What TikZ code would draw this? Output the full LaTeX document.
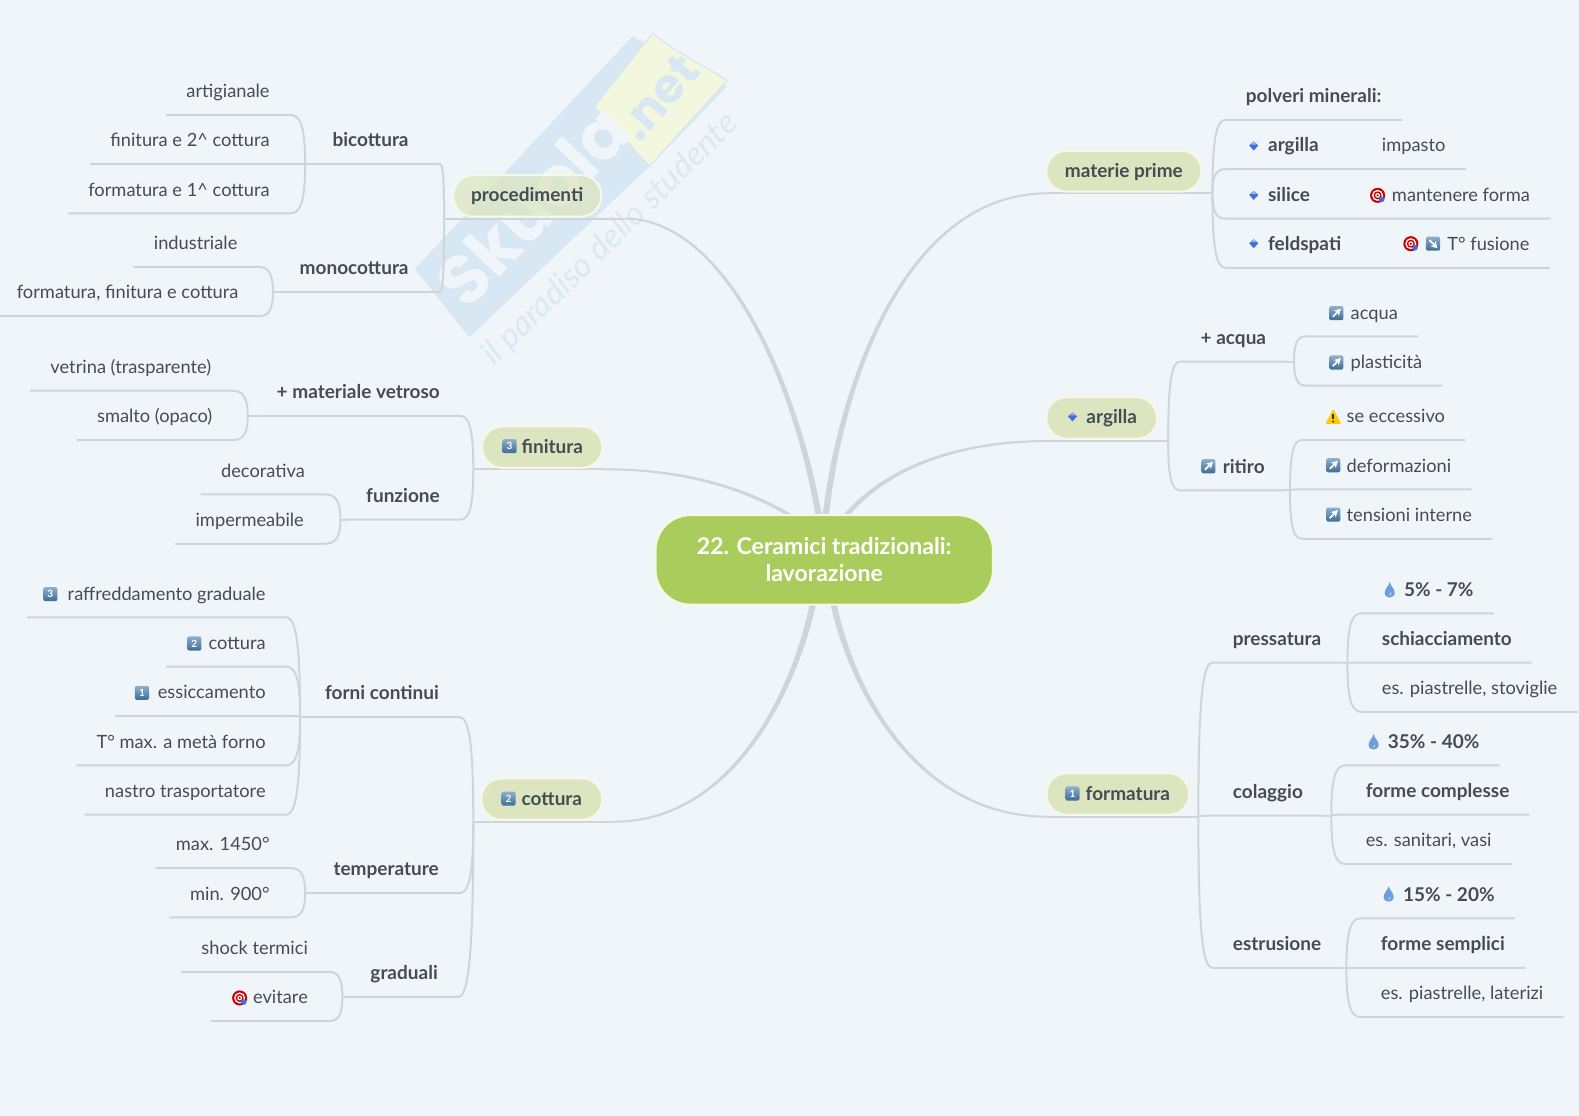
\documentclass[tikz,border=0pt]{standalone}
\usepackage{fontspec}
\setmainfont{Lato}
\newfontfamily\wmfont{Poppins}
\usetikzlibrary{calc,arrows.meta}
\definecolor{pagebg}{HTML}{F0F5F9}
\definecolor{ink}{HTML}{454D53}
\definecolor{twigc}{HTML}{CFD6DB}
\definecolor{pillc}{HTML}{DCE5C0}
\definecolor{pilledge}{HTML}{F5F9E8}
\definecolor{rootc}{HTML}{A9CC5C}
\definecolor{rootedge}{HTML}{F4FAE0}
\definecolor{boxtop}{HTML}{8DB0CF}
\definecolor{boxbot}{HTML}{3D6C95}
\definecolor{wmband}{HTML}{D7E8F4}
\definecolor{wmyel}{HTML}{F2F7DD}
\definecolor{wmsub}{HTML}{DCE9F2}
\definecolor{gemc}{HTML}{3F6FE0}
\newlength\un \setlength\un{0.7553pt}
\newcommand\fs{\fontsize{13.7}{16}\selectfont}
\newcommand\fsb{\fontsize{14.25}{16}\selectfont\bfseries}
\newcommand\ico[1]{\hspace*{#1\un}}
\newcommand\forkto[3]{\draw[twig] (#1) .. controls ($(#1|-#2)!0.25!(#1)$) and ($(#1|-#2)!0.3!(#2)$) .. (#2) -- (#3);}
\newcommand\maincurve[5]{\fill[twigc] ([xshift=-2.4pt]#1) .. controls ([xshift=-1.6pt,yshift=#5*0.9pt]#2) and ([xshift=-0.5pt,yshift=#5*0.9pt]#3) .. ([yshift=#5*0.75pt]#4) -- ([yshift=-#5*0.75pt]#4) .. controls ([xshift=0.5pt,yshift=-#5*0.9pt]#3) and ([xshift=1.6pt,yshift=-#5*0.9pt]#2) .. ([xshift=2.4pt]#1) -- cycle;}
\tikzset{
  twig/.style={draw=twigc,line width=1.5pt},
  rn/.style={anchor=south west,inner ysep=0pt,inner xsep=15.1pt,minimum height=36.3pt,text height=14.8pt,text depth=4pt,text=ink,font=\fs},
  ln/.style={rn,anchor=south east},
  rb/.style={rn,font=\fsb},
  lb/.style={ln,font=\fsb},
  pill/.style={draw=pilledge,line width=1.5pt,fill=pillc,rounded corners=15pt,inner sep=0pt,text=ink,font=\fsb,text height=12pt,text depth=3pt},
  pics/numbox/.style={code={
    \shade[top color=boxtop,bottom color=boxbot,rounded corners=1.5pt] (-7,-7) rectangle (7,7);
    \node[text=white,font=\fontsize{7.5}{8}\selectfont\bfseries,inner sep=0pt] (dg) at (0,0) {#1};}},
  pics/arrbox/.style={code={
    \shade[top color=boxtop,bottom color=boxbot,rounded corners=1.5pt] (-7,-7) rectangle (7,7);
    \draw[white,line width=1.3pt,-{Stealth[length=5pt,width=5.5pt]}] (-3.5,3.5) -- (4.5,-4.5);}},
  pics/arrdown/.style={code={
    \shade[top color=boxtop,bottom color=boxbot,rounded corners=1.5pt] (-7,-7) rectangle (7,7);
    \draw[white,line width=1.3pt,-{Stealth[length=5pt,width=5.5pt]}] (-3.5,-3.5) -- (4.5,4.5);}},
  pics/gem/.style={code={
    \fill[gemc] (0,-4.5) -- (4.5,-0.5) -- (0,4.5) -- (-4.5,-0.5) -- cycle;
    \fill[gemc!50!white] (0,-4.5) -- (2.5,-1.5) -- (-2.5,-1.5) -- cycle;}},
  pics/target/.style={code={
    \fill[red!80!black] (0,0) circle (7.5);
    \fill[white] (0,0) circle (5.5);
    \fill[red!80!black] (0,0) circle (4);
    \fill[white] (0,0) circle (2.4);
    \fill[red!80!black] (0,0) circle (1.2);
    \fill[gemc] (4,4) circle (2.8);}},
  pics/warn/.style={code={
    \fill[yellow!65!orange,rounded corners=1pt] (0,-8) -- (8,7) -- (-8,7) -- cycle;
    \fill[black!80] (-1,-3) rectangle (1,2.5);
    \fill[black!80] (0,4.6) circle (1.1);}},
  pics/drop/.style={code={
    \fill[cyan!55!blue!60] (0,-8) .. controls (1,-4) and (5,-1) .. (5,2.5) .. controls (5,9) and (-5,9) .. (-5,2.5) .. controls (-5,-1) and (-1,-4) .. (0,-8) -- cycle;
    \fill[white,opacity=.7] (1.6,2) .. controls (2.4,4) and (1,5.5) .. (-.5,5.5) .. controls (.6,4.5) and (1.2,3.5) .. (1.6,2) -- cycle;}},
}
\begin{document}
\begin{tikzpicture}[x=\un,y=-\un]
\useasboundingbox (0,0) rectangle (1568,1108);
\fill[pagebg] (0,0) rectangle (1568,1108);

% ---- watermark
\fill[wmband] (412,267) -- (628,36) -- (722,86) -- (645,165) -- (466,335) -- cycle;
\draw[wmband,fill=wmyel,line width=1pt] (590,106) -- (648,33) .. controls (675,55) and (700,65) .. (722,80) -- (645,165) -- cycle;
\node[rotate=46.5,text=pagebg,font=\wmfont\fontsize{52}{54}\selectfont\bfseries,inner sep=0pt] (wm1) at (529,204) {Skuola};
\node[rotate=48,text=wmband,font=\wmfont\fontsize{36}{38}\selectfont\bfseries,inner sep=0pt] (wm2) at (654,97) {.net};
\node[rotate=44.5,text=wmsub,font=\fontsize{25}{28}\selectfont\itshape,inner sep=0pt] (wm3) at (606,238) {il paradiso dello studente};

% ---- main branch anchors
\coordinate (rP) at (820,512); \coordinate (eP) at (1040,192); \coordinate (fP) at (1204,192);
\coordinate (rA) at (840,512); \coordinate (eA) at (1040,438); \coordinate (fA) at (1160,438);
\coordinate (rF) at (828,601); \coordinate (eF) at (1040,811); \coordinate (fF) at (1190,811);
\coordinate (rC) at (807,601); \coordinate (eC) at (610,816);  \coordinate (fC) at (470,816);
\coordinate (rN) at (785,512); \coordinate (eN) at (600,466);  \coordinate (fN) at (470,466);
\coordinate (rR) at (813,512); \coordinate (eR) at (620,217);  \coordinate (fR) at (441,217);

\maincurve{rP}{835,380}{900,192}{eP}{1}
\maincurve{rA}{880,465}{950,438}{eA}{1}
\maincurve{rF}{850,700}{920,811}{eF}{-1}
\maincurve{rC}{785,700}{720,816}{eC}{1}
\maincurve{rN}{740,485}{680,466}{eN}{-1}
\maincurve{rR}{790,380}{720,217}{eR}{-1}
\draw[twig] (eP) -- (fP);
\draw[twig] (eA) -- (fA);
\draw[twig] (eF) -- (fF);
\draw[twig] (eC) -- (fC);
\draw[twig] (eN) -- (fN);
\draw[twig] (eR) -- (fR);

% ---- root
\node[draw=rootedge,line width=1.5pt,fill=rootc,rounded corners=26pt,minimum width=253pt,minimum height=67pt,inner sep=0pt,text=white,align=center,font=\fontsize{17.3}{20.4}\selectfont\bfseries] (root) at (818.5,556) {22. Ceramici tradizionali:\\lavorazione};

% ---- pills
\node[pill,minimum width=116.3pt,minimum height=30.5pt] (tP) at (1116,170) {materie prime};
\node[pill,minimum width=83pt,minimum height=31pt] (tA) at (1094,415) {\ico{20}argilla};
\node[pill,minimum width=107pt,minimum height=31pt] (tF) at (1110,788.5) {\ico{20}formatura};
\node[pill,minimum width=90.6pt,minimum height=31pt] (tC) at (538,793.5) {\ico{20}cottura};
\node[pill,minimum width=90pt,minimum height=31pt] (tN) at (538.5,444) {\ico{20}finitura};
\node[pill,fill opacity=.75,text opacity=1,minimum width=111pt,minimum height=31pt] (tR) at (523.5,194.5) {procedimenti};
\pic at (1065,414) {gem};
\pic at (1065,788) {numbox=1};
\pic at (505,793) {numbox=2};
\pic at (506,443) {numbox=3};

% ---- materie prime
\node[rb] (n1) at (1217,119) {polveri minerali:};
\node[rb] (n2) at (1217,168) {\ico{22}argilla};
\node[rn] (n2a) at (1352,168) {impasto};
\node[rb] (n3) at (1217,217) {\ico{22}silice};
\node[rn] (n3a) at (1340,217) {\ico{22}mantenere forma};
\node[rb] (n4) at (1217,266) {\ico{22}feldspati};
\node[rn] (n4a) at (1373,266) {\ico{44}T° fusione};
\pic at (1245,145) {gem}; \pic at (1245,194) {gem}; \pic at (1245,242) {gem};
\pic at (1368,194) {target}; \pic at (1401,242) {target}; \pic at (1423,242) {arrdown};
\forkto{fP}{n1.south west}{n1.south east}
\forkto{fP}{n2.south west}{n2a.south east}
\forkto{fP}{n3.south west}{n3a.south east}
\forkto{fP}{n4.south west}{n4a.south east}

% ---- argilla
\node[rb] (a1) at (1172,359) {+ acqua};
\node[rb] (a2) at (1172,487) {\ico{22}ritiro};
\pic at (1200,463) {arrbox};
\forkto{fA}{a1.south west}{a1.south east}
\forkto{fA}{a2.south west}{a2.south east}
\coordinate (fa1) at (1285,359); \coordinate (fa2) at (1281,487);
\draw[twig] (a1.south east) -- (fa1);
\draw[twig] (a2.south east) -- (fa2);
\node[rn] (a11) at (1297,334) {\ico{24}acqua};
\node[rn] (a12) at (1297,383) {\ico{24}plasticità};
\node[rn] (a21) at (1293,437) {\ico{24}se eccessivo};
\node[rn] (a22) at (1293,486) {\ico{24}deformazioni};
\node[rn] (a23) at (1293,535) {\ico{24}tensioni interne};
\pic at (1327,311) {arrbox}; \pic at (1327,360) {arrbox};
\pic at (1324,414) {warn}; \pic at (1324,462) {arrbox}; \pic at (1324,511) {arrbox};
\forkto{fa1}{a11.south west}{a11.south east}
\forkto{fa1}{a12.south west}{a12.south east}
\forkto{fa2}{a21.south west}{a21.south east}
\forkto{fa2}{a22.south west}{a22.south east}
\forkto{fa2}{a23.south west}{a23.south east}

% ---- formatura
\node[rb] (f1) at (1204,658) {pressatura};
\node[rb] (f2) at (1204,810) {colaggio};
\node[rb] (f3) at (1204,961) {estrusione};
\forkto{fF}{f1.south west}{f1.south east}
\forkto{fF}{f2.south west}{f2.south east}
\forkto{fF}{f3.south west}{f3.south east}
\coordinate (ff1) at (1338,658); \coordinate (ff2) at (1322,810); \coordinate (ff3) at (1337,961);
\draw[twig] (f1.south east) -- (ff1);
\draw[twig] (f2.south east) -- (ff2);
\draw[twig] (f3.south east) -- (ff3);
\node[rb] (f11) at (1352,609) {\ico{22}5\% - 7\%};
\node[rb] (f12) at (1352,658) {schiacciamento};
\node[rn] (f13) at (1352,707) {es. piastrelle, stoviglie};
\node[rb] (f21) at (1336,760) {\ico{22}35\% - 40\%};
\node[rb] (f22) at (1336,809) {forme complesse};
\node[rn] (f23) at (1336,858) {es. sanitari, vasi};
\node[rb] (f31) at (1351,912) {\ico{22}15\% - 20\%};
\node[rb] (f32) at (1351,961) {forme semplici};
\node[rn] (f33) at (1351,1010) {es. piastrelle, laterizi};
\pic at (1380,586) {drop}; \pic at (1364,737) {drop}; \pic at (1379,888) {drop};
\forkto{ff1}{f11.south west}{f11.south east}
\forkto{ff1}{f12.south west}{f12.south east}
\forkto{ff1}{f13.south west}{f13.south east}
\forkto{ff2}{f21.south west}{f21.south east}
\forkto{ff2}{f22.south west}{f22.south east}
\forkto{ff2}{f23.south west}{f23.south east}
\forkto{ff3}{f31.south west}{f31.south east}
\forkto{ff3}{f32.south west}{f32.south east}
\forkto{ff3}{f33.south west}{f33.south east}

% ---- cottura
\node[lb] (c1) at (456,712) {forni continui};
\node[lb] (c2) at (456,887) {temperature};
\node[lb] (c3) at (455,990) {graduali};
\forkto{fC}{c1.south east}{c1.south west}
\forkto{fC}{c2.south east}{c2.south west}
\forkto{fC}{c3.south east}{c3.south west}
\coordinate (fc1) at (298,712); \coordinate (fc2) at (303,887); \coordinate (fc3) at (340,990);
\draw[twig] (c1.south west) -- (fc1);
\draw[twig] (c2.south west) -- (fc2);
\draw[twig] (c3.south west) -- (fc3);
\node[ln] (c11) at (284,613) {\ico{20}raffreddamento graduale};
\node[ln] (c12) at (284,662) {\ico{22}cottura};
\node[ln] (c13) at (284,711) {\ico{22}essiccamento};
\node[ln] (c14) at (284,760) {T° max. a metà forno};
\node[ln] (c15) at (284,809) {nastro trasportatore};
\pic at (50,590) {numbox=3}; \pic at (193,639) {numbox=2}; \pic at (141,688) {numbox=1};
\forkto{fc1}{c11.south east}{c11.south west}
\forkto{fc1}{c12.south east}{c12.south west}
\forkto{fc1}{c13.south east}{c13.south west}
\forkto{fc1}{c14.south east}{c14.south west}
\forkto{fc1}{c15.south east}{c15.south west}
\node[ln] (c21) at (288,862) {max. 1450°};
\node[ln] (c22) at (288,911) {min. 900°};
\forkto{fc2}{c21.south east}{c21.south west}
\forkto{fc2}{c22.south east}{c22.south west}
\node[ln] (c31) at (326,965) {shock termici};
\node[ln] (c32) at (326,1014) {\ico{22}evitare};
\pic at (238,991) {target};
\forkto{fc3}{c31.south east}{c31.south west}
\forkto{fc3}{c32.south east}{c32.south west}

% ---- finitura
\node[lb] (v1) at (457,413) {+ materiale vetroso};
\node[lb] (v2) at (457,516) {funzione};
\forkto{fN}{v1.south east}{v1.south west}
\forkto{fN}{v2.south east}{v2.south west}
\coordinate (fv1) at (246,413); \coordinate (fv2) at (338,516);
\draw[twig] (v1.south west) -- (fv1);
\draw[twig] (v2.south west) -- (fv2);
\node[ln] (v11) at (230,388) {vetrina (trasparente)};
\node[ln] (v12) at (231,437) {smalto (opaco)};
\node[ln] (v21) at (323,491) {decorativa};
\node[ln] (v22) at (322,540) {impermeabile};
\forkto{fv1}{v11.south east}{v11.south west}
\forkto{fv1}{v12.south east}{v12.south west}
\forkto{fv2}{v21.south east}{v21.south west}
\forkto{fv2}{v22.south east}{v22.south west}

% ---- procedimenti
\node[lb] (p1) at (437,163) {bicottura\ico{11}};
\node[lb] (p2) at (437,290) {monocottura\ico{11}};
\forkto{fR}{p1.south east}{p1.south west}
\forkto{fR}{p2.south east}{p2.south west}
\coordinate (fp1) at (303,163); \coordinate (fp2) at (271,290);
\draw[twig] (p1.south west) -- (fp1);
\draw[twig] (p2.south west) -- (fp2);
\node[ln] (p11) at (288,114) {artigianale};
\node[ln] (p12) at (288,163) {finitura e 2\textasciicircum{} cottura};
\node[ln] (p13) at (288,212) {formatura e 1\textasciicircum{} cottura};
\node[ln] (p21) at (256,265) {industriale};
\node[ln] (p22) at (257,314) {formatura, finitura e cottura};
\forkto{fp1}{p11.south east}{p11.south west}
\forkto{fp1}{p12.south east}{p12.south west}
\forkto{fp1}{p13.south east}{p13.south west}
\forkto{fp2}{p21.south east}{p21.south west}
\forkto{fp2}{p22.south east}{p22.south west}
\end{tikzpicture}
\end{document}
